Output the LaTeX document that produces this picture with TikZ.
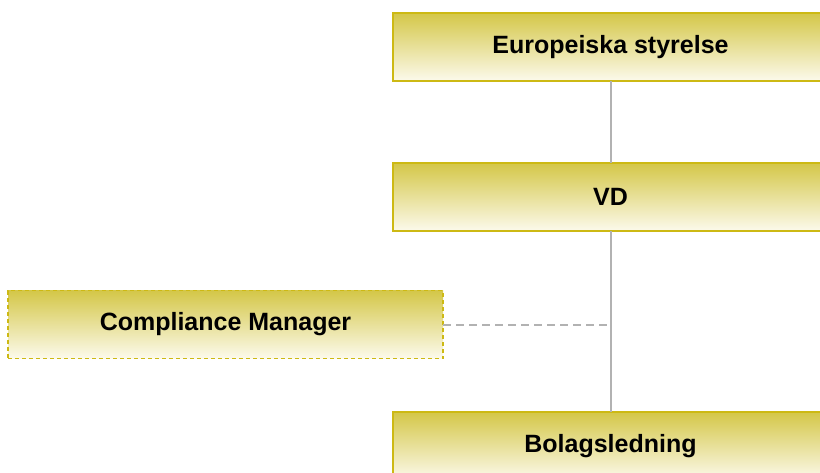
\documentclass[tikz,border=0pt]{standalone}
\usepackage{fontspec}
\setmainfont{Liberation Sans}
\definecolor{boxtop}{RGB}{212,199,72}
\definecolor{boxbot}{RGB}{252,250,236}
\definecolor{boxedge}{RGB}{205,185,20}
\definecolor{linegray}{RGB}{178,178,178}
\tikzset{
  orgbox/.style={draw=boxedge, line width=1.3pt, top color=boxtop, bottom color=boxbot,
    minimum width=435pt, minimum height=68pt, inner sep=0pt, outer sep=0pt,
    font=\fontsize{25}{30}\selectfont\bfseries, text=black},
  dashbox/.style={orgbox, dashed, dash pattern=on 4pt off 3pt},
  solidlink/.style={draw=linegray, line width=2pt},
  dashlink/.style={draw=linegray, line width=2pt, dash pattern=on 8pt off 5pt}
}
\begin{document}
\begin{tikzpicture}[x=1pt,y=-1pt]
\useasboundingbox (0,0) rectangle (820,472);
\clip (0,0) rectangle (820,472);
\node[orgbox] (eu) at (610.5,47) {Europeiska styrelse};
\node[orgbox] (vd) at (610.5,197) {VD};
\node[orgbox] (bol) at (610.5,446) {Bolagsledning};
\node[dashbox] (cm) at (225.5,324.5) {Compliance Manager};
\draw[solidlink] (eu.south) -- (vd.north);
\draw[solidlink] (vd.south) -- (bol.north);
\draw[dashlink] (cm.east) -- (cm.east -| vd.south);
\end{tikzpicture}
\end{document}
